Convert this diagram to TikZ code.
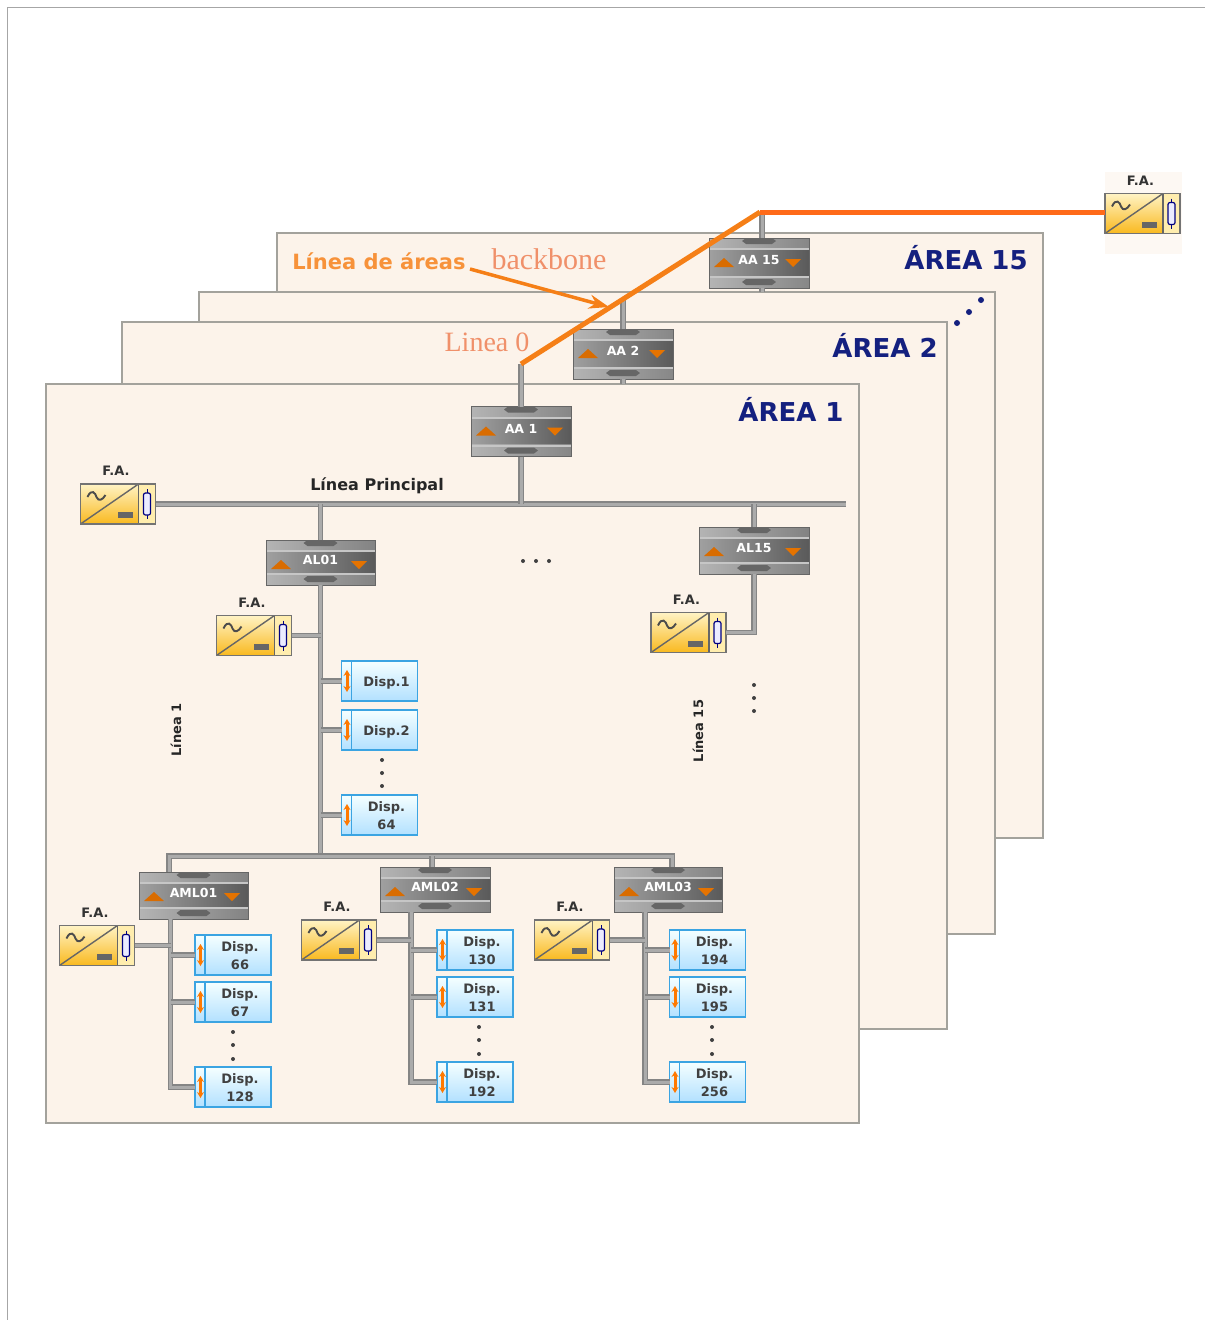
\documentclass[tikz,border=0pt]{standalone}
\usepackage{fontspec}
\setmainfont{DejaVu Sans}
\newfontfamily\serifnote{Liberation Serif}
\usetikzlibrary{positioning, arrows.meta}

\definecolor{sheetfill}{HTML}{FCF3EA}
\definecolor{sheetline}{HTML}{A3A29C}
\definecolor{busdark}{HTML}{858585}
\definecolor{buslight}{HTML}{ABABAB}
\definecolor{backbone}{HTML}{F57F17}
\definecolor{notecol}{HTML}{F0906A}
\definecolor{areablue}{HTML}{14207F}
\definecolor{dispedge}{HTML}{3BA4E2}
\definecolor{coupdark}{HTML}{5A5A5A}
\definecolor{couplite}{HTML}{A0A0A0}
\definecolor{bandlite}{HTML}{B4B4B4}
\definecolor{banddark}{HTML}{7E7E7E}
\definecolor{supplytop}{HTML}{FFF3C4}
\definecolor{supplylow}{HTML}{F9B91F}
\definecolor{supplypale}{HTML}{FFEDAE}

\newcommand{\couplerart}{
    \coordinate (nw) at (path picture bounding box.north west);
    \coordinate (sw) at (path picture bounding box.south west);
    \coordinate (ne) at (path picture bounding box.north east);
    \coordinate (nn) at (path picture bounding box.north);
    \coordinate (ss) at (path picture bounding box.south);
    \shade[left color=bandlite, right color=banddark] (nw) rectangle ++(120,10);
    \shade[left color=bandlite, right color=banddark] (sw) rectangle ++(120,-12);
    \fill[gray!45] (nw) ++(0,10) rectangle ++(120,2);
    \fill[gray!45] (sw) ++(0,-12) rectangle ++(120,2);
    \fill[gray!80!black] (nn) ++(-17,3) -- ++(4,-3) -- ++(26,0) -- ++(4,3) -- ++(-4,3) -- ++(-26,0) -- cycle;
    \fill[gray!80!black] (ss) ++(-17,-6) -- ++(4,-3) -- ++(26,0) -- ++(4,3) -- ++(-4,3) -- ++(-26,0) -- cycle;
    \fill[orange!85!black] (nw) ++(5,29) -- ++(10,-9) -- ++(10,9) -- cycle;
    \fill[orange!90!black] (ne) ++(-24,21) -- ++(16,0) -- ++(-8,8) -- cycle;
}
\newcommand{\supplyart}{
    \coordinate (nw) at (path picture bounding box.north west);
    \fill[supplypale] (nw) ++(58,0) rectangle ++(22,45);
    \draw[gray!80!black, line width=1.4pt] (nw) ++(0,40) -- ++(58,-40);
    \draw[gray!80!black, line width=1.4pt] (nw) ++(58,0) -- ++(0,45);
    \draw[black!70, line width=1.9pt] (nw) ++(7,13) .. controls +(4,-9) and +(-1,-4) .. ++(9,0) .. controls +(2,5) and +(-3,5) .. ++(9,-2);
    \fill[gray!80!black] (nw) ++(37,28) rectangle ++(15,6);
    \draw[blue!50!black, line width=1pt] (nw) ++(66.5,5) -- ++(0,30);
    \draw[blue!50!black, fill=blue!8, line width=1.2pt, rounded corners=2pt] (nw) ++(63,9) rectangle ++(7,22);
}
\newcommand{\dispart}{
    \coordinate (nw) at (path picture bounding box.north west);
    \draw[dispedge, line width=1.5pt] (nw) ++(10,0) -- ++(0,45);
    \draw[{Stealth[length=6pt, width=7pt]}-{Stealth[length=6pt, width=7pt]}, orange!95!red, line width=3pt] (nw) ++(5.5,9) -- ++(0,22);
}
\newcommand{\disptext}[1]{\hspace*{14pt}\begin{tabular}{@{}c@{}}\rule{0pt}{16pt}#1\end{tabular}}

\tikzset{
    sheet/.style={rectangle, draw=sheetline, line width=1.6pt, fill=sheetfill, anchor=north west, inner sep=0pt, outer sep=0pt},
    coupler/.style={rectangle, draw=gray!80!black, line width=0.8pt, left color=couplite, right color=coupdark, minimum width=#1, minimum height=50pt, inner sep=0pt, outer sep=0pt,
        path picture={\couplerart}, text=white, font=\fontsize{12.5}{14}\selectfont\bfseries, text height=9pt, text depth=6pt},
    coupler/.default=100pt,
    supply/.style={rectangle, draw=gray!90!black, line width=1.4pt, top color=supplytop, bottom color=supplylow, minimum width=75pt, minimum height=40pt, inner sep=0pt, outer sep=0pt,
        path picture={\supplyart}, label={[falabel]above:F.A.}},
    falabel/.style={font=\fontsize{13}{14}\selectfont\bfseries, text=black!80, inner sep=2pt, label distance=6pt, xshift=-2pt},
    dispbox/.style={rectangle, draw=dispedge, line width=1.5pt, top color=cyan!4!white, bottom color=cyan!60!blue!30!white, minimum width=76pt, minimum height=40pt, inner sep=0pt, outer sep=0pt,
        path picture={\dispart}, text=black!75, font=\fontsize{13}{18}\selectfont\bfseries},
    bus/.style={draw=busdark, line width=1.3pt, double=buslight, double distance=3pt},
    areatitle/.style={font=\fontsize{26}{28}\selectfont\bfseries, text=areablue},
    linetitle/.style={font=\fontsize{13}{15}\selectfont\bfseries, text=black!85, rotate=90},
    note/.style={font=\serifnote\fontsize{28}{30}\selectfont, text=notecol}
}

\begin{document}
\begin{tikzpicture}[x=1pt, y=-1pt]
    \useasboundingbox (0,0) rectangle (1205,1320);
    \draw[gray!70, line width=1pt] (7,1320) -- (7,7) -- (1205,7);

    \node[sheet, minimum width=766pt, minimum height=605pt] (area15) at (277,233) {};
    \node[sheet, minimum width=796pt, minimum height=642pt] (area3) at (199,292) {};
    \node[sheet, minimum width=825pt, minimum height=707pt] (area2) at (122,322) {};
    \node[sheet, minimum width=813pt, minimum height=739pt] (area1) at (46,384) {};
    \fill[sheetfill!60] (1105,172) rectangle (1182,254);

    \node[areatitle] (title15) at (966,258) {ÁREA 15};
    \node[areatitle] (title2) at (885,345) {ÁREA 2};
    \node[areatitle] (title1) at (791,409) {ÁREA 1};

    % area couplers
    \node[coupler] (aa15) at (759,263) {AA 15};
    \node[coupler] (aa2) at (623,354) {AA 2};
    \node[coupler] (aa1) at (521,431.5) {AA 1};

    % line couplers
    \node[coupler=109pt, minimum height=45pt] (al01) at (320.5,562.5) {AL01};
    \node[coupler=110pt, minimum height=47pt] (al15) at (754,550.5) {AL15};
    \node[coupler=109pt, minimum height=47pt] (aml01) at (193.5,895.5) {AML01};
    \node[coupler=110pt, minimum height=45pt] (aml02) at (435,889.5) {AML02};
    \node[coupler=108pt, minimum height=45pt, right=124pt of aml02] (aml03) {AML03};

    % power supplies
    \node[supply] (famain) at (118,504) {};
    \node[supply] (fa01) at (254,635.5) {};
    \node[supply] (fa15) at (688.5,632.5) {};
    \node[supply] (faml01) at (97,945.5) {};
    \node[supply] (faml02) at (339,940) {};
    \node[supply] (faml03) at (572,940) {};
    \node[supply] (fatop) at (1142.5,213.5) {};

    % devices of line 1
    \node[dispbox] (disp1) at (379.5,681) {\disptext{Disp.1}};
    \node[dispbox, below=9pt of disp1] (disp2) {\disptext{Disp.2}};
    \node[dispbox, below=45pt of disp2] (disp64) {\disptext{Disp.\\64}};

    % devices of the three sub lines
    \node[dispbox] (disp66) at (233,955) {\disptext{Disp.\\66}};
    \node[dispbox, below=7pt of disp66] (disp67) {\disptext{Disp.\\67}};
    \node[dispbox, below=45pt of disp67] (disp128) {\disptext{Disp.\\128}};
    \node[dispbox] (disp130) at (475,950) {\disptext{Disp.\\130}};
    \node[dispbox, below=7pt of disp130] (disp131) {\disptext{Disp.\\131}};
    \node[dispbox, below=45pt of disp131] (disp192) {\disptext{Disp.\\192}};
    \node[dispbox] (disp194) at (707.5,950) {\disptext{Disp.\\194}};
    \node[dispbox, below=7pt of disp194] (disp195) {\disptext{Disp.\\195}};
    \node[dispbox, below=45pt of disp195] (disp256) {\disptext{Disp.\\256}};

    \coordinate (mainend) at (846,504);
    \coordinate (subleft) at (169,856);
    \coordinate (subright) at (672,856);
    \coordinate (aml1bus) at ([xshift=-23pt]aml01.south);
    \coordinate (aml2bus) at ([xshift=-24pt]aml02.south);
    \coordinate (aml3bus) at ([xshift=-23pt]aml03.south);
    \coordinate (bbstart) at (521,364);
    \coordinate (bbbend) at (760,212);
    \coordinate (bbcross) at (622,300);
    \coordinate (aa15top) at ([xshift=3pt]aa15.north);
    \coordinate (aa15low) at ([xshift=3pt]aa15.south);

    % main line and its branches
    \draw[bus] (famain.east) -- (mainend);
    \draw[bus] (aa1.south) -- (aa1.south |- mainend);
    \draw[bus] (al01.north) -- (al01.north |- mainend);
    \draw[bus] (al15.north) -- (al15.north |- mainend);
    \draw[bus] (al15.south) |- (fa15.east);
    \draw[bus] (al01.south) -- (al01.south |- subleft);
    \draw[bus] (fa01.east) -- (fa01.east -| al01.south);
    \draw[bus] (disp1.west) -- (disp1.west -| al01.south);
    \draw[bus] (disp2.west) -- (disp2.west -| al01.south);
    \draw[bus] (disp64.west) -- (disp64.west -| al01.south);

    % sub lines
    \draw[bus] (aml01.north -| subleft) |- (subright) -- (aml03.north -| subright);
    \draw[bus] ([xshift=-3pt]aml02.north) -- ([xshift=-3pt]aml02.north |- subleft);
    \draw[bus] (aml1bus) |- (disp128.west);
    \draw[bus] (disp66.west) -- (disp66.west -| aml1bus);
    \draw[bus] (disp67.west) -- (disp67.west -| aml1bus);
    \draw[bus] (faml01.east) -- (faml01.east -| aml1bus);
    \draw[bus] (aml2bus) |- (disp192.west);
    \draw[bus] (disp130.west) -- (disp130.west -| aml2bus);
    \draw[bus] (disp131.west) -- (disp131.west -| aml2bus);
    \draw[bus] (faml02.east) -- (faml02.east -| aml2bus);
    \draw[bus] (aml3bus) |- (disp256.west);
    \draw[bus] (disp194.west) -- (disp194.west -| aml3bus);
    \draw[bus] (disp195.west) -- (disp195.west -| aml3bus);
    \draw[bus] (faml03.east) -- (faml03.east -| aml3bus);

    % stubs of the area couplers
    \draw[bus] (aa1.north) -- (bbstart);
    \draw[bus] (aa2.north) -- (aa2.north |- bbcross);
    \draw[bus] (aa2.south) -- (aa2.south |- area1.north);
    \draw[bus] (aa15top) -- (aa15top |- bbbend);
    \draw[bus] (aa15low) -- (aa15low |- area3.north);

    % backbone
    \draw[backbone, line width=5pt] (bbstart) -- (bbbend);
    \draw[orange!70!red!90, line width=5pt] (bbbend) -- (fatop.west |- bbbend);

    \node[font=\fontsize{21}{23}\selectfont\bfseries, text=backbone!85!white] (areasline) at (379,261) {Línea de áreas};
    \node[note, font=\serifnote\fontsize{30}{32}\selectfont] (bbnote) at (549,259) {backbone};
    \node[note] (line0) at (487,342) {Linea 0};
    \coordinate (arrowtip) at (609,307);
    \draw[backbone, line width=3.5pt, -{Stealth[length=20pt, width=14pt]}] (470,269) -- (arrowtip);

    \node[font=\fontsize{16}{18}\selectfont\bfseries, text=black!85] (mainlabel) at (377,486) {Línea Principal};
    \node[linetitle] (line1) at (176,730) {Línea 1};
    \node[linetitle] (line15) at (698,731) {Línea 15};

    % dots
    \fill[black!75] (523,561) circle (2) (536,561) circle (2) (549,561) circle (2);
    \fill[black!75] (754,685) circle (2) (754,698) circle (2) (754,711) circle (2);
    \fill[black!75] (382,760) circle (2) (382,773) circle (2) (382,786) circle (2);
    \fill[black!75] (233,1032) circle (2) (233,1045) circle (2) (233,1059) circle (2);
    \fill[black!75] (479,1027) circle (2) (479,1040) circle (2) (479,1054) circle (2);
    \fill[black!75] (712,1027) circle (2) (712,1040) circle (2) (712,1054) circle (2);
    \fill[areablue] (957,323) circle (3) (969,312) circle (3) (981,300) circle (3);
\end{tikzpicture}
\end{document}
